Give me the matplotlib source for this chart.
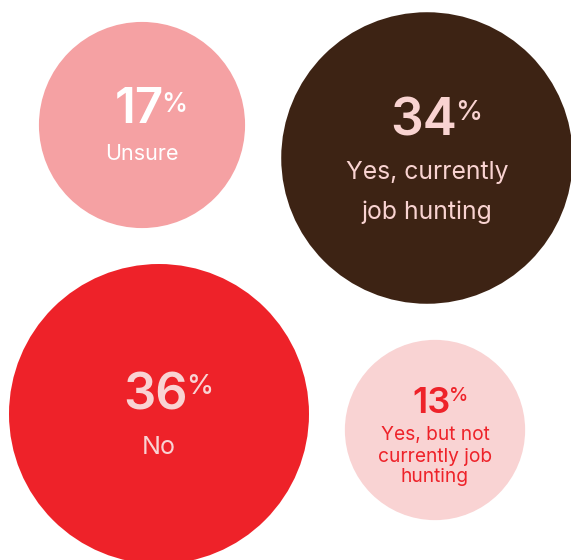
import numpy as np
import matplotlib
matplotlib.use("Agg")
import matplotlib.pyplot as plt
from matplotlib.patches import Circle

# Survey answers and their shares (percent)
labels = ["Unsure", "Yes, currently\njob hunting", "No", "Yes, but not\ncurrently job\nhunting"]
shares = [17, 34, 36, 13]

# Layout (pixel space of the canvas)
centers_x = [142, 427, 159, 435]
centers_y = [125, 158, 414, 430]
px_per_sqrt = 25.0               # circle area proportional to share
fill_colors = ["#F5A1A3", "#3D2314", "#EE2229", "#F9D3D3"]
text_colors = ["#FFFFFF", "#F9D3D1", "#F9D3D3", "#EE2229"]
num_sizes = [35.5, 37, 36.5, 26]      # pt
pct_sizes = [19, 19.5, 19.5, 14]
pct_raise = [11, 16, 16, 12]          # px the % baseline sits above the number baseline
lab_sizes = [15.5, 17.8, 18, 13.8]
num_baseline = [123, 135.5, 409.5, 413]
lab_baselines = [[160.5], [178.5, 219.5], [454.5], [440, 461.5, 482.5]]

W, H = 571, 560
fig = plt.figure(figsize=(W / 100, H / 100), dpi=100)
ax = fig.add_axes([0, 0, 1, 1])
ax.set_xlim(0, W)
ax.set_ylim(H, 0)
ax.set_aspect("equal")
ax.axis("off")

FONT = "Inter"
renderer = fig.canvas.get_renderer()
inv = ax.transData.inverted()

for i, share in enumerate(shares):
    cx, cy = centers_x[i], centers_y[i]
    r = px_per_sqrt * np.sqrt(share)
    ax.add_patch(Circle((cx, cy), r, facecolor=fill_colors[i], edgecolor="none"))

    num = ax.text(cx - 3, num_baseline[i], f"{share}", ha="center", va="baseline",
                  fontsize=num_sizes[i], fontweight="semibold", family=FONT,
                  color=text_colors[i])
    bb = num.get_window_extent(renderer)
    x_right = inv.transform([[bb.x1, bb.y0]])[0][0]
    num_px = num_sizes[i] * 100 / 72
    ax.text(x_right - 0.05 * num_px, num_baseline[i] - pct_raise[i], "%",
            ha="left", va="baseline", fontsize=pct_sizes[i], fontweight="medium",
            family=FONT, color=text_colors[i])

    for line, yb in zip(labels[i].split("\n"), lab_baselines[i]):
        ax.text(cx, yb, line, ha="center", va="baseline",
                fontsize=lab_sizes[i], family=FONT, color=text_colors[i])

fig.savefig("out.png", dpi=100, facecolor="white")
